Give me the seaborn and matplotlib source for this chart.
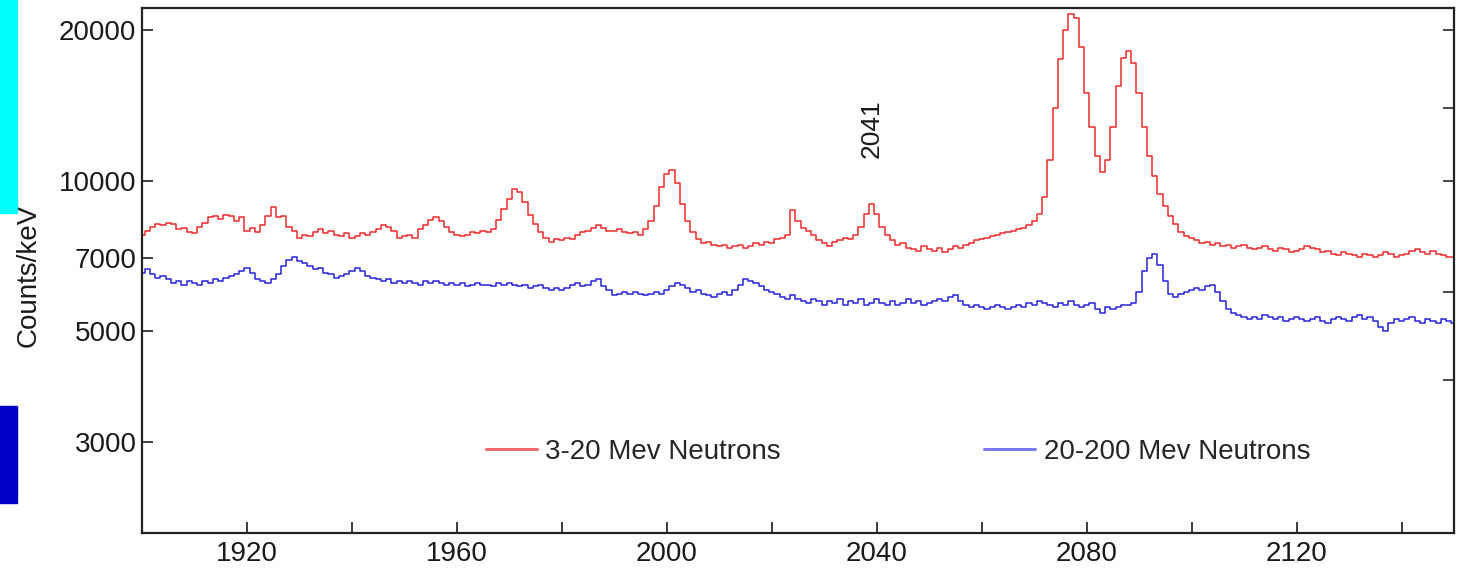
import numpy as np
import pandas as pd
import matplotlib
matplotlib.use("Agg")
import matplotlib.pyplot as plt
import seaborn as sns
from matplotlib.patches import Rectangle
from matplotlib.ticker import NullLocator

# ---------------- data ----------------
energy_kev = list(range(1900, 2151))

counts_3_20 = [
    7800, 7950, 8100, 8200, 8150, 8250, 8200, 8000, 8050, 7900,
    7850, 8100, 8250, 8450, 8500, 8400, 8550, 8500, 8300, 8450,
    7950, 8050, 7900, 8150, 8500, 8850, 8450, 8500, 8100, 7950,
    7700, 7800, 7750, 7900, 8000, 7850, 7950, 7800, 7750, 7850,
    7700, 7750, 7850, 7800, 7900, 8000, 8150, 8100, 7950, 7700,
    7750, 7800, 7700, 8000, 8150, 8350, 8450, 8300, 8100, 7900,
    7800, 7750, 7800, 7900, 7850, 7950, 7900, 8000, 8350, 8800,
    9200, 9650, 9500, 9050, 8550, 8200, 7900, 7700, 7550, 7650,
    7600, 7700, 7650, 7800, 7900, 7950, 8050, 8150, 8050, 7950,
    7950, 8000, 7900, 7850, 7900, 7800, 8000, 8300, 8900, 9700,
    10300, 10500, 9900, 9000, 8300, 7900, 7650, 7500, 7550, 7450,
    7400, 7450, 7350, 7400, 7450, 7350, 7400, 7500, 7450, 7550,
    7500, 7650, 7700, 7800, 8750, 8300, 8050, 7950, 7800, 7600,
    7500, 7400, 7550, 7600, 7700, 7650, 7800, 8100, 8600, 9000,
    8600, 8100, 7800, 7600, 7450, 7500, 7350, 7300, 7250, 7400,
    7300, 7250, 7350, 7200, 7300, 7400, 7350, 7450, 7500, 7600,
    7650, 7700, 7750, 7800, 7850, 7900, 7950, 8000, 8050, 8150,
    8300, 8600, 9300, 11000, 14000, 17500, 20000, 21500, 21200, 18500,
    15000, 12800, 11200, 10400, 11000, 12800, 15500, 17600, 18200, 17200,
    15000, 12800, 11200, 10200, 9400, 8900, 8500, 8200, 7900, 7750,
    7700, 7600, 7500, 7550, 7450, 7500, 7400, 7450, 7350, 7400,
    7450, 7350, 7300, 7350, 7400, 7300, 7250, 7350, 7300, 7200,
    7250, 7300, 7400, 7350, 7300, 7200, 7250, 7150, 7100, 7200,
    7150, 7100, 7050, 7150, 7100, 7050, 7100, 7200, 7150, 7050,
    7100, 7150, 7250, 7300, 7200, 7150, 7250, 7150, 7100, 7050,
    7050,
]

counts_20_200 = [
    6550, 6650, 6500, 6400, 6450, 6350, 6250, 6300, 6200, 6300,
    6250, 6200, 6300, 6250, 6350, 6300, 6400, 6450, 6500, 6600,
    6700, 6550, 6350, 6300, 6250, 6350, 6500, 6750, 6950, 7050,
    6900, 6850, 6750, 6650, 6700, 6550, 6500, 6400, 6450, 6500,
    6600, 6700, 6600, 6450, 6400, 6350, 6300, 6350, 6250, 6300,
    6250, 6300, 6250, 6200, 6300, 6250, 6300, 6250, 6200, 6250,
    6200, 6250, 6150, 6200, 6250, 6200, 6200, 6150, 6250, 6200,
    6250, 6200, 6150, 6200, 6100, 6150, 6200, 6100, 6050, 6100,
    6050, 6100, 6200, 6250, 6150, 6200, 6300, 6350, 6150, 6050,
    5900, 5950, 6000, 5950, 6000, 5950, 5900, 5950, 6000, 5950,
    6050, 6150, 6250, 6200, 6100, 6000, 6050, 5950, 5900, 5850,
    5950, 6000, 5900, 6050, 6200, 6350, 6300, 6250, 6150, 6050,
    6000, 5950, 5850, 5800, 5900, 5800, 5750, 5700, 5800, 5750,
    5650, 5750, 5700, 5800, 5650, 5750, 5700, 5800, 5650, 5700,
    5800, 5700, 5650, 5750, 5650, 5700, 5800, 5700, 5750, 5650,
    5700, 5750, 5800, 5750, 5850, 5900, 5750, 5650, 5600, 5650,
    5600, 5550, 5600, 5650, 5600, 5550, 5600, 5650, 5600, 5700,
    5650, 5750, 5700, 5650, 5600, 5700, 5650, 5750, 5650, 5600,
    5650, 5700, 5550, 5450, 5600, 5550, 5600, 5650, 5650, 5700,
    6000, 6600, 7000, 7150, 6800, 6300, 5950, 5850, 5950, 6000,
    6050, 6100, 6050, 6150, 6200, 6000, 5750, 5550, 5450, 5400,
    5350, 5300, 5350, 5300, 5400, 5350, 5300, 5350, 5250, 5300,
    5350, 5300, 5250, 5300, 5350, 5250, 5200, 5300, 5350, 5300,
    5250, 5350, 5400, 5300, 5350, 5250, 5100, 5000, 5200, 5300,
    5250, 5300, 5350, 5250, 5200, 5300, 5250, 5200, 5300, 5250,
    5200,
]

series_labels = ["3-20 Mev Neutrons", "20-200 Mev Neutrons"]
x_ticks = [1920, 1940, 1960, 1980, 2000, 2020, 2040, 2060, 2080, 2100, 2120, 2140]
x_tick_labels = ["1920", "", "1960", "", "2000", "", "2040", "", "2080", "", "2120", ""]
y_ticks = [3000, 5000, 7000, 10000, 20000]
y_tick_labels = ["3000", "5000", "7000", "10000", "20000"]
right_ticks = [4000, 6000, 10000, 14000, 20000]
peak_label = "2041"
peak_label_pos = (2039, 12700)
y_title = "Counts/keV"

# ---------------- styling ----------------
sns.set_style("ticks")
plt.rcParams["font.family"] = ["Liberation Sans", "DejaVu Sans"]

df = pd.concat([
    pd.DataFrame({"keV": energy_kev, "counts": counts_3_20, "series": series_labels[0]}),
    pd.DataFrame({"keV": energy_kev, "counts": counts_20_200, "series": series_labels[1]}),
], ignore_index=True)

fig = plt.figure(figsize=(14.61, 5.72), dpi=100)
fig.patch.set_facecolor("white")
ax = fig.add_axes([142 / 1461, 39 / 572, 1312 / 1461, 525 / 572])

sns.lineplot(data=df, x="keV", y="counts", hue="series",
             palette=["#ee2a2a", "#2424d8"], drawstyle="steps-mid",
             linewidth=1.1, ax=ax)

ax.set_yscale("log")
ax.set_xlim(1900, 2150)
ax.set_ylim(1977, 22150)
ax.set_xticks(x_ticks)
ax.set_xticklabels(x_tick_labels)
ax.set_yticks(y_ticks)
ax.set_yticklabels(y_tick_labels)
ax.yaxis.set_minor_locator(NullLocator())
ax.xaxis.set_minor_locator(NullLocator())
ax.tick_params(axis="both", direction="in", length=8, width=1.2,
               labelsize=20, colors="#1a1a1a")
ax.tick_params(axis="y", pad=4)
ax.tick_params(axis="x", pad=6)
ax.set_xlabel("")
ax.set_ylabel(y_title, fontsize=20, color="#1a1a1a")
ax.yaxis.set_label_coords(-0.0762, 0.49)
for s in ax.spines.values():
    s.set_visible(True)
    s.set_linewidth(1.6)
    s.set_color("#222222")

# right-side ticks
ax2 = ax.twinx()
ax2.set_yscale("log")
ax2.set_ylim(ax.get_ylim())
ax2.set_yticks(right_ticks)
ax2.yaxis.set_minor_locator(NullLocator())
ax2.tick_params(axis="y", direction="in", length=8, width=1.2, labelright=False)
for s in ax2.spines.values():
    s.set_visible(False)

ax.text(peak_label_pos[0], peak_label_pos[1], peak_label, rotation=90,
        ha="center", va="center", fontsize=19, color="#1a1a1a")

sns.move_legend(ax, loc="center left", bbox_to_anchor=(0.262, 0.154),
                ncol=2, title=None, frameon=False, fontsize=20,
                handlelength=1.85, handletextpad=0.3, columnspacing=7.3,
                borderpad=0, borderaxespad=0)
leg_colors = ["#f06a6a", "#7a7af0"]
for line, c in zip(ax.get_legend().get_lines(), leg_colors):
    line.set_linewidth(2.2)
    line.set_color(c)

# left-edge coloured blocks
fig.patches.append(Rectangle((0, 1 - 213 / 572), 17 / 1461, 213 / 572,
                             transform=fig.transFigure, color="#00ffff", zorder=0))
fig.patches.append(Rectangle((0, 1 - 503 / 572), 17 / 1461, 97 / 572,
                             transform=fig.transFigure, color="#0000c8", zorder=0))

fig.savefig("out.png", dpi=100)
